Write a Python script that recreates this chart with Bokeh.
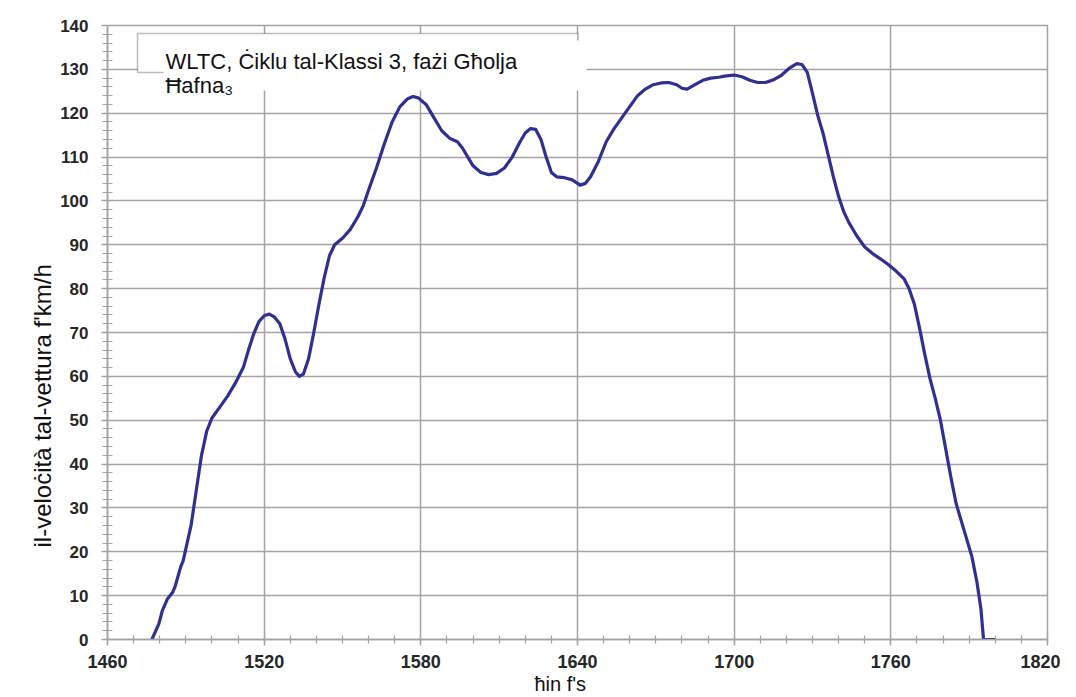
from bokeh.plotting import figure
from bokeh.models import Label, BoxAnnotation, FixedTicker, Range1d, Title
from bokeh.embed import file_html
from bokeh.resources import INLINE

# ---- data ----
time_s = [1477, 1479.7, 1481, 1483, 1485, 1486, 1488, 1489, 1492, 1494, 1496, 1498,
          1500, 1503, 1506, 1509, 1512, 1514, 1516, 1518, 1520, 1522, 1524, 1526,
          1528, 1530, 1532, 1533.5, 1535, 1537, 1539, 1541, 1543, 1545, 1547, 1550,
          1553, 1556, 1558, 1560, 1563, 1566, 1569, 1572, 1575, 1577, 1579, 1582,
          1585, 1588, 1591, 1594, 1596, 1598, 1600, 1603, 1606, 1609, 1612, 1615,
          1618, 1620, 1622, 1624, 1626, 1628, 1630, 1632, 1635, 1638, 1641, 1643,
          1645, 1648, 1651, 1654, 1657, 1660, 1663, 1666, 1669, 1672, 1675, 1678,
          1680, 1682, 1685, 1688, 1691, 1694, 1697, 1700, 1703, 1706, 1709, 1712,
          1715, 1718, 1721, 1724, 1726, 1728, 1730, 1732, 1734, 1736, 1738, 1740,
          1742, 1744, 1747, 1750, 1753, 1756, 1759, 1762, 1765, 1767, 1769, 1771,
          1773, 1775, 1777, 1779, 1781, 1783, 1785, 1787, 1789, 1791, 1793, 1794.5,
          1795.5, 1800]
speed_kmh = [0, 3.6, 6.6, 9.3, 10.8, 12.3, 16.5, 18, 26, 34, 42, 47.5,
             50.5, 53, 55.5, 58.5, 62, 66, 69.7, 72.5, 73.8, 74.2, 73.5, 72,
             68.5, 64, 61, 60.0, 60.5, 64, 70, 76.5, 82.5, 87.5, 90, 91.5,
             93.5, 96.5, 99, 102.5, 107.5, 113, 118, 121.5, 123.3, 123.8, 123.5, 122,
             119, 116, 114.3, 113.5, 112, 110, 108, 106.5, 106, 106.3, 107.5, 110,
             113.5, 115.5, 116.5, 116.3, 114, 110, 106.5, 105.5, 105.3, 104.8, 103.6, 104,
             105.5, 109, 113.5, 116.5, 119, 121.5, 124, 125.5, 126.5, 126.9, 127, 126.5,
             125.7, 125.5, 126.5, 127.5, 128, 128.2, 128.5, 128.7, 128.3, 127.5, 127, 127,
             127.6, 128.6, 130.2, 131.3, 131.1, 129.3, 124.5, 119.5, 115.5, 110.5, 105.5, 101,
             97.5, 95, 92, 89.5, 88, 86.8, 85.5, 84, 82.3, 80, 76.5, 71,
             65, 59.5, 55, 50, 43.5, 37, 31, 27, 23, 19, 13, 7,
             0, 0]

x_ticks = [1460, 1520, 1580, 1640, 1700, 1760, 1820]
x_minor_ticks = list(range(1460, 1821, 10))
y_ticks = [0, 10, 20, 30, 40, 50, 60, 70, 80, 90, 100, 110, 120, 130, 140]
y_minor_ticks = list(range(0, 141, 2))

title_line1 = "WLTC, Ċiklu tal-Klassi 3, fażi Għolja"
title_line2 = "Ħafna₃"
x_label = "ħin f's"
y_label = "il-veloċità tal-vettura f'km/h"

# ---- styling ----
GRID = "#a8a1a1"
LINE = "#2e3192"
FONT = "Liberation Sans"

p = figure(width=1060, height=697,
           x_range=Range1d(1460, 1820), y_range=Range1d(0, 140),
           output_backend="svg", toolbar_location=None,
           min_border_left=107, min_border_right=13,
           min_border_top=25, min_border_bottom=58)

p.background_fill_color = "white"
p.border_fill_color = "white"
p.outline_line_color = GRID
p.outline_line_width = 1.5

p.xaxis.ticker = FixedTicker(ticks=x_ticks, minor_ticks=x_minor_ticks)
p.yaxis.ticker = FixedTicker(ticks=y_ticks, minor_ticks=y_minor_ticks)

for ax in (p.xaxis, p.yaxis):
    ax.axis_line_color = GRID
    ax.axis_line_width = 1.5
    ax.major_tick_line_color = GRID
    ax.major_tick_line_width = 1.5
    ax.minor_tick_line_color = GRID
    ax.minor_tick_line_width = 1.2
    ax.major_label_text_font = FONT
    ax.major_label_text_font_style = "bold"
    ax.major_label_text_color = "#262626"

p.xaxis.major_tick_in = 0
p.xaxis.major_tick_out = 6
p.xaxis.minor_tick_in = 4
p.xaxis.minor_tick_out = 4
p.xaxis.major_label_text_font_size = "18px"
p.xaxis.major_label_standoff = 9

p.yaxis.major_tick_in = 0
p.yaxis.major_tick_out = 6
p.yaxis.minor_tick_in = 5
p.yaxis.minor_tick_out = 5
p.yaxis.major_label_text_font_size = "17px"
p.yaxis.major_label_standoff = 13

p.xgrid.grid_line_color = GRID
p.xgrid.grid_line_width = 1.5
p.ygrid.grid_line_color = GRID
p.ygrid.grid_line_width = 1.5

p.line(time_s, speed_kmh, line_color=LINE, line_width=3.2, line_join="round")

# title box (outline, then white label background over it)
p.add_layout(BoxAnnotation(left=1471.5, right=1640.1, top=138.2, bottom=129.3,
                           fill_color="white", fill_alpha=1.0,
                           line_color="#222222", line_width=1.5))
p.add_layout(BoxAnnotation(left=1481.5, right=1643.5, top=136.6, bottom=125.2,
                           fill_color="white", fill_alpha=1.0,
                           line_alpha=0))
p.add_layout(Label(x=1482.2, y=131.9, text=title_line1,
                   text_font=FONT, text_font_size="22px",
                   text_color="#111111", text_baseline="alphabetic"))
p.add_layout(Label(x=1482.2, y=126.3, text=title_line2,
                   text_font=FONT, text_font_size="22px",
                   text_color="#111111", text_baseline="alphabetic"))

# vertical axis title, placed low like in the reference
p.add_layout(Title(text=y_label, align="left", offset=92, standoff=4,
                   text_font=FONT, text_font_size="24px",
                   text_font_style="normal", text_color="#111111"), "left")
# horizontal axis title, slightly left of centre like in the reference
p.add_layout(Title(text=x_label, align="left", offset=427, standoff=0,
                   text_font=FONT, text_font_size="20px",
                   text_font_style="normal", text_color="#111111"), "below")

open("out.html", "w").write(file_html(p, INLINE))
